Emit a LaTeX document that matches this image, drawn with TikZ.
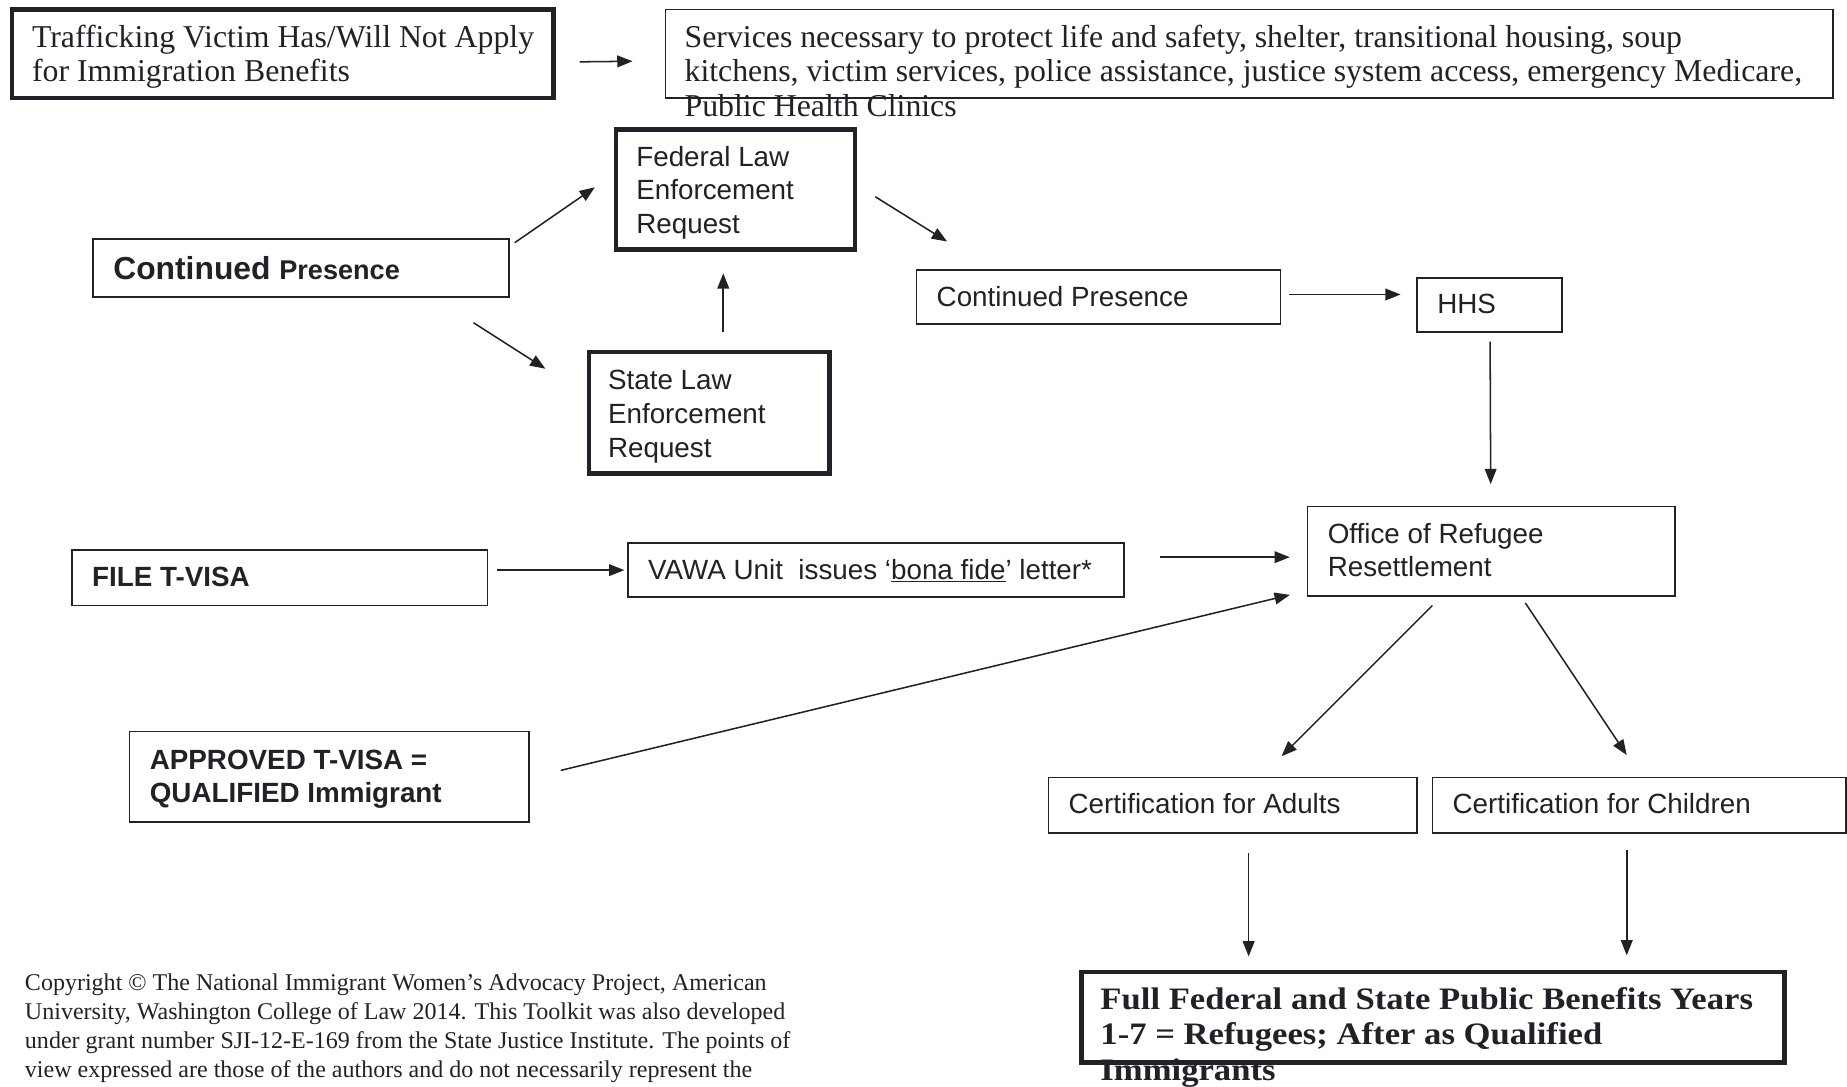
\documentclass[tikz,border=0pt]{standalone}
\usepackage{fontspec}
\setmainfont{Liberation Serif}
\newfontfamily\sansf{Liberation Sans}
\newfontfamily\wideserif[FakeStretch=1.11]{Liberation Serif}
\usetikzlibrary{arrows.meta}
\definecolor{ink}{RGB}{33,33,40}
\tikzset{
  box/.style={draw=ink, line width=1.3pt, inner sep=0pt, outer sep=0pt, anchor=north west},
  thickbox/.style={box, line width=3.8pt},
  txt/.style={text=ink, inner sep=0pt, anchor=base west},
  serif/.style={txt, font=\fontsize{27}{29.5}\selectfont},
  sans/.style={txt, font=\sansf\fontsize{23.6}{28.5}\selectfont},
  sansb/.style={txt, font=\sansf\bfseries\fontsize{23.6}{28}\selectfont},
  bserif/.style={txt, font=\wideserif\bfseries\fontsize{26.5}{30}\selectfont},
  note/.style={txt, font=\fontsize{20.4}{24.6}\selectfont},
  arr/.style={draw=ink, line width=1.3pt, -{Triangle[length=13pt,width=10pt]}},
}
\begin{document}
\begin{tikzpicture}[x=1pt,y=-1pt]
\useasboundingbox (0,0) rectangle (1568,922);
% boxes
\node[thickbox, minimum width=460, minimum height=75] (A) at (10,8) {};
\node[box, minimum width=991, minimum height=75] (B) at (565,8) {};
\node[thickbox, minimum width=203, minimum height=102] (C) at (523,110) {};
\node[box, minimum width=353, minimum height=49] (CP1) at (79,203) {};
\node[thickbox, minimum width=204, minimum height=103] (S) at (500,299) {};
\node[box, minimum width=309, minimum height=46] (CP2) at (778,229) {};
\node[box, minimum width=123, minimum height=46] (HHS) at (1203,236) {};
\node[box, minimum width=312, minimum height=76] (ORR) at (1110,430) {};
\node[box, minimum width=353, minimum height=47] (FILE) at (61,467) {};
\node[box, minimum width=421, minimum height=46] (VAWA) at (533,461) {};
\node[box, minimum width=339, minimum height=77] (APP) at (110,621) {};
\node[box, minimum width=313, minimum height=47] (AD) at (890,660) {};
\node[box, minimum width=351, minimum height=47] (CH) at (1216,660) {};
\node[thickbox, minimum width=597, minimum height=77] (FULL) at (918,825) {};
% texts
\node[serif] (At) at (27,40) {\vtop{\hbox{Trafficking Victim Has/Will Not Apply}\hbox{for Immigration Benefits}}};
\node[serif] (Bt) at (581,40) {\vtop{\hbox{Services necessary to protect life and safety, shelter, transitional housing, soup}\hbox{kitchens, victim services, police assistance, justice system access, emergency Medicare,}\hbox{Public Health Clinics}}};
\node[sans] (Ct) at (540,141) {\vtop{\hbox{Federal Law}\hbox{Enforcement}\hbox{Request}}};
\node[txt, font=\sansf\bfseries] (CP1t) at (96,237) {\fontsize{27}{30}\selectfont Continued \fontsize{23}{28}\selectfont Presence};
\node[sans] (St) at (516,331) {\vtop{\hbox{State Law}\hbox{Enforcement}\hbox{Request}}};
\node[sans] (CP2t) at (795,260) {Continued Presence};
\node[sans] (HHSt) at (1220,266) {HHS};
\node[sans] (ORRt) at (1127,461) {\vtop{\hbox{Office of Refugee}\hbox{Resettlement}}};
\node[sansb] (FILEt) at (78,498) {FILE T-VISA};
\node[sans] (VAWAt) at (550,492) {VAWA Unit\ \ issues ‘\underline{bona fide}’ letter*};
\node[sansb] (APPt) at (127,653) {\vtop{\hbox{APPROVED T-VISA =}\hbox{QUALIFIED Immigrant}}};
\node[sans] (ADt) at (907,691) {Certification for Adults};
\node[sans] (CHt) at (1233,691) {Certification for Children};
\node[bserif] (FULLt) at (934,857) {\vtop{\hbox{Full Federal and State Public Benefits Years}\hbox{1-7 = Refugees; After as Qualified}\hbox{Immigrants}}};
\node[note] (NOTE) at (21,841) {\vtop{\hbox{Copyright © The National Immigrant Women’s Advocacy Project, American}\hbox{University, Washington College of Law 2014. This Toolkit was also developed}\hbox{under grant number SJI-12-E-169 from the State Justice Institute. The points of}\hbox{view expressed are those of the authors and do not necessarily represent the}}};
% connectors
\draw[arr] ([shift={(22,7)}]A.east) -- ([shift={(-28,6.5)}]B.west);
\draw[arr] ([shift={(5,3)}]CP1.north east) -- ([shift={(-18,-2)}]C.west);
\draw[arr] ([shift={(-30,22)}]CP1.south east) -- ([shift={(-37,14)}]S.north west);
\draw[arr] ([shift={(12,-17)}]S.north) -- ([shift={(-10.5,20)}]C.south);
\draw[arr] ([shift={(17,6)}]C.east) -- ([shift={(26,-24)}]CP2.north west);
\draw[arr] ([shift={(7,-2)}]CP2.east) -- ([shift={(-14,-9)}]HHS.west);
\draw[arr] ([shift={(0.5,8)}]HHS.south) -- ([shift={(-0.5,-19)}]ORR.north);
\draw[arr] ([shift={(8,-6.5)}]FILE.east) -- ([shift={(-3,0)}]VAWA.west);
\draw[arr] ([shift={(31,-11)}]VAWA.east) -- ([shift={(-15,5)}]ORR.west);
\draw[arr] ([shift={(27,-5.5)}]APP.east) -- ([shift={(-15,-1)}]ORR.south west);
\draw[arr] ([shift={(-50,8)}]ORR.south) -- ([shift={(41.5,-18)}]AD.north);
\draw[arr] ([shift={(29,6)}]ORR.south) -- ([shift={(-10.5,-19)}]CH.north);
\draw[arr] ([shift={(13.5,17)}]AD.south) -- ([shift={(142,-13)}]FULL.north west);
\draw[arr] ([shift={(-10.5,15)}]CH.south) -- ([shift={(-134,-14)}]FULL.north east);
\end{tikzpicture}
\end{document}
